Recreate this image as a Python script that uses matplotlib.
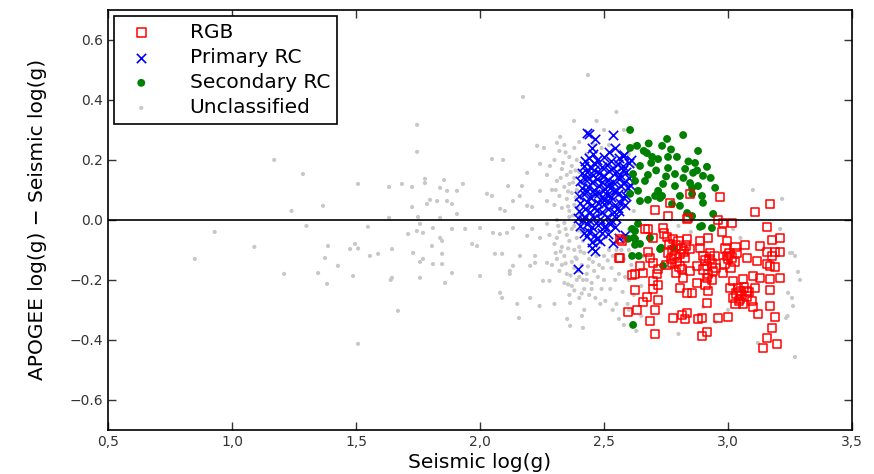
import matplotlib
matplotlib.use("Agg")
import matplotlib.pyplot as plt
from matplotlib.ticker import FuncFormatter, MultipleLocator

# seismic log(g) vs APOGEE - seismic log(g)
rgb_pts = [
    (2.847, 0.087), (2.968, 0.077), (3.169, 0.053), (2.706, 0.033), (2.758, 0.013), (3.109, 0.027),
    (2.839, 0.007), (2.96, 0.0), (3.016, -0.01), (2.98, -0.01), (3.157, -0.023), (2.677, -0.03),
    (2.738, -0.027), (2.976, -0.04), (3.21, -0.06), (3.177, -0.067), (3.069, -0.083), (3.129, -0.087),
    (3.21, -0.107), (3.19, -0.107), (2.565, -0.127), (2.677, -0.107), (2.685, -0.127), (2.754, -0.057),
    (2.778, -0.063), (2.835, -0.063), (2.887, -0.07), (2.919, -0.06), (2.996, -0.07), (2.887, -0.093),
    (2.847, -0.097), (2.806, -0.113), (2.827, -0.127), (2.927, -0.11), (3.036, -0.11), (3.0, -0.13),
    (3.077, -0.127), (3.117, -0.137), (3.157, -0.147), (3.169, -0.153), (2.645, -0.153), (2.698, -0.143),
    (2.718, -0.163), (2.657, -0.177), (2.625, -0.18), (2.714, -0.18), (2.774, -0.143), (2.815, -0.163),
    (2.847, -0.17), (2.819, -0.193), (2.875, -0.153), (2.915, -0.153), (2.94, -0.17), (2.915, -0.193),
    (2.875, -0.21), (2.98, -0.177), (3.02, -0.203), (3.06, -0.197), (3.1, -0.187), (3.129, -0.193),
    (3.169, -0.197), (3.21, -0.193), (2.698, -0.203), (2.718, -0.217), (2.698, -0.23), (2.625, -0.233),
    (2.806, -0.227), (2.835, -0.243), (2.855, -0.243), (2.919, -0.237), (3.008, -0.227), (3.04, -0.227),
    (3.048, -0.237), (3.077, -0.237), (3.109, -0.227), (3.169, -0.233), (3.02, -0.26), (3.048, -0.263),
    (3.097, -0.27), (2.673, -0.257), (2.657, -0.273), (2.718, -0.267), (2.915, -0.277), (3.101, -0.29),
    (3.169, -0.287), (2.597, -0.307), (2.633, -0.3), (2.706, -0.3), (3.121, -0.313), (3.19, -0.323),
    (2.685, -0.337), (2.778, -0.327), (2.815, -0.317), (2.835, -0.31), (2.827, -0.33), (2.879, -0.33),
    (2.895, -0.327), (2.96, -0.327), (3.0, -0.323), (3.177, -0.36), (2.706, -0.38), (2.915, -0.373),
    (2.895, -0.387), (3.157, -0.393), (3.197, -0.413), (3.141, -0.427),
    (2.766, 0.057), (2.835, 0.003), (2.665, -0.03), (2.698, -0.06), (2.565, -0.063), (2.573, -0.07),
    (2.56, -0.127), (2.613, -0.183),
    (2.742, -0.045), (2.762, -0.08), (2.775, -0.1), (2.79, -0.085), (2.8, -0.07), (2.81, -0.095),
    (2.785, -0.12), (2.795, -0.14), (2.77, -0.13), (2.822, -0.105), (2.805, -0.155), (2.757, -0.11),
    (2.83, -0.085), (2.752, -0.15), (2.79, -0.175),
    (2.9, -0.12), (2.91, -0.135), (2.925, -0.13), (2.935, -0.145), (2.9, -0.165), (2.92, -0.18),
    (2.935, -0.2), (2.945, -0.12), (2.91, -0.215), (2.95, -0.16),
    (2.99, -0.095), (3.005, -0.11), (3.015, -0.125), (2.985, -0.145), (3.01, -0.16), (3.025, -0.14),
    (2.995, -0.12), (3.03, -0.09),
    (3.035, -0.245), (3.055, -0.25), (3.065, -0.225), (3.045, -0.27), (3.075, -0.255), (3.06, -0.28),
    (3.085, -0.24), (3.03, -0.28),
    (3.19, -0.157), (3.177, -0.12), (3.157, -0.107),
]

primary_pts = [
    (2.44, 0.205), (2.47, 0.2), (2.50, 0.21), (2.53, 0.195), (2.56, 0.205), (2.58, 0.215), (2.455, 0.22), (2.52, 0.225),
    (2.42, 0.18), (2.445, 0.175), (2.465, 0.185), (2.49, 0.178), (2.51, 0.183), (2.535, 0.172), (2.555, 0.185),
    (2.575, 0.18), (2.6, 0.19),
    (2.41, 0.155), (2.43, 0.16), (2.455, 0.15), (2.48, 0.158), (2.5, 0.148), (2.52, 0.162), (2.545, 0.155),
    (2.565, 0.15), (2.59, 0.16),
    (2.405, 0.13), (2.425, 0.135), (2.45, 0.128), (2.47, 0.138), (2.49, 0.125), (2.515, 0.133), (2.535, 0.128),
    (2.56, 0.135), (2.58, 0.125),
    (2.41, 0.105), (2.435, 0.11), (2.46, 0.1), (2.48, 0.112), (2.505, 0.103), (2.525, 0.108), (2.55, 0.1),
    (2.57, 0.112), (2.595, 0.105),
    (2.40, 0.08), (2.42, 0.085), (2.445, 0.075), (2.465, 0.088), (2.49, 0.078), (2.51, 0.083), (2.53, 0.075),
    (2.555, 0.085), (2.575, 0.078),
    (2.405, 0.055), (2.43, 0.06), (2.45, 0.05), (2.475, 0.058), (2.5, 0.052), (2.52, 0.06), (2.545, 0.05),
    (2.565, 0.057), (2.585, 0.05),
    (2.40, 0.03), (2.425, 0.035), (2.445, 0.025), (2.47, 0.032), (2.49, 0.027), (2.515, 0.035), (2.54, 0.025),
    (2.56, 0.03),
    (2.395, 0.005), (2.42, 0.01), (2.44, 0.0), (2.46, 0.008), (2.485, 0.002), (2.51, 0.01), (2.53, 0.0),
    (2.55, 0.007),
    (2.405, -0.02), (2.43, -0.015), (2.45, -0.025), (2.475, -0.018), (2.5, -0.022), (2.525, -0.015), (2.545, -0.025),
    (2.42, -0.045), (2.44, -0.04), (2.465, -0.05), (2.49, -0.042), (2.515, -0.048),
    (2.431, -0.053), (2.484, -0.07), (2.452, -0.093), (2.464, -0.103), (2.536, -0.077), (2.504, -0.02),
    (2.45, -0.075), (2.47, -0.065), (2.395, -0.163), (2.56, -0.06), (2.585, -0.05),
    (2.431, 0.29), (2.464, 0.27), (2.536, 0.283), (2.544, 0.24), (2.577, 0.213), (2.44, 0.285), (2.45, 0.24),
    (2.425, 0.195), (2.44, 0.14), (2.46, 0.165), (2.48, 0.09), (2.495, 0.145), (2.5, 0.065), (2.52, 0.12),
    (2.54, 0.095), (2.555, 0.04), (2.46, 0.04), (2.43, 0.095), (2.575, 0.165), (2.6, 0.14), (2.59, 0.08),
    (2.605, 0.115), (2.61, 0.2), (2.415, 0.0),
]

secondary_pts = [
    (2.605, 0.30), (2.819, 0.283), (2.754, 0.27), (2.633, 0.247), (2.734, 0.247), (2.605, 0.24), (2.879, 0.23),
    (2.673, 0.223), (2.694, 0.21), (2.758, 0.21), (2.794, 0.21), (2.718, 0.203), (2.867, 0.19), (2.915, 0.177),
    (2.645, 0.18), (2.758, 0.173), (2.827, 0.17), (2.859, 0.157), (2.786, 0.153), (2.899, 0.147), (2.617, 0.153),
    (2.677, 0.15), (2.625, 0.13), (2.665, 0.13), (2.738, 0.12), (2.786, 0.113), (2.847, 0.123), (2.855, 0.107),
    (2.879, 0.113), (2.948, 0.107), (2.605, 0.087), (2.637, 0.097), (2.718, 0.097), (2.706, 0.08), (2.734, 0.08),
    (2.806, 0.08), (2.855, 0.087), (2.895, 0.08), (2.899, 0.057), (2.774, 0.053), (2.806, 0.047), (2.835, 0.023),
    (2.855, 0.013), (2.94, 0.02), (2.895, -0.02), (2.935, -0.027), (2.637, -0.013), (2.625, -0.037),
    (2.645, 0.063), (2.677, 0.067), (2.726, 0.073), (2.613, -0.03), (2.597, -0.063), (2.625, -0.063),
    (2.625, -0.083), (2.685, -0.06), (2.726, -0.097), (2.778, -0.093), (2.613, -0.12), (2.738, -0.153),
    (2.617, -0.35), (2.887, -0.023), (2.62, -0.06), (2.645, -0.08), (2.64, -0.12), (2.73, -0.093),
    (2.69, 0.19), (2.71, 0.165), (2.75, 0.145), (2.82, 0.14), (2.68, 0.255), (2.66, 0.23), (2.84, 0.195),
    (2.77, 0.235), (2.875, 0.165), (2.93, 0.14),
]

unclassified_pts = [
    # sparse tail to the left
    (0.85, -0.13), (0.93, -0.04), (1.09, -0.09), (1.17, 0.20), (1.21, -0.18), (1.24, 0.03), (1.30, -0.02),
    (1.286, 0.153), (1.367, 0.047), (1.387, -0.087), (1.375, -0.127), (1.427, -0.153), (1.347, -0.177),
    (1.383, -0.213), (1.476, -0.097), (1.496, -0.08), (1.508, -0.095), (1.488, -0.187), (1.508, -0.413),
    (1.508, 0.12), (1.548, -0.023), (1.589, -0.113), (1.556, -0.12), (1.633, 0.11), (1.633, 0.007),
    (1.645, -0.097), (1.645, -0.193), (1.64, -0.2), (1.669, -0.303), (1.685, 0.12), (1.726, 0.11),
    (1.726, 0.043), (1.746, 0.317), (1.746, 0.227), (1.73, -0.11), (1.71, -0.047), (1.745, -0.037),
    (1.77, -0.043), (1.75, 0.01), (1.758, -0.013), (1.758, -0.193), (1.77, -0.13), (1.758, -0.14),
    (1.778, 0.137), (1.778, 0.123), (1.786, 0.053), (1.798, 0.067), (1.81, -0.027), (1.806, -0.087),
    (1.81, -0.147), (1.827, 0.063), (1.839, 0.107), (1.839, 0.007), (1.839, -0.06), (1.847, -0.07),
    (1.847, -0.113), (1.847, -0.147), (1.855, 0.133), (1.859, -0.21), (1.867, 0.097), (1.867, 0.063),
    (1.887, 0.053), (1.887, -0.03), (1.887, -0.177), (1.907, 0.097), (1.907, 0.02), (1.931, 0.12),
    (1.94, -0.03), (1.968, -0.08), (1.988, -0.087), (2.0, -0.027), (2.0, -0.187), (2.028, 0.087),
    (2.048, 0.203), (2.048, 0.08), (2.052, -0.043), (2.08, -0.047), (2.081, 0.037), (2.081, -0.243),
    (2.089, -0.113), (2.06, -0.113), (2.089, -0.26), (2.093, 0.2), (2.109, -0.043), (2.113, 0.113),
    (2.12, -0.17), (2.133, 0.063), (2.133, -0.153), (2.133, -0.027), (2.157, -0.327), (2.161, -0.12),
    (2.169, 0.113), (2.16, 0.08), (2.173, 0.41), (2.10, 0.03), (2.19, 0.047), (2.19, -0.053), (2.19, 0.157),
    (2.21, 0.043), (2.21, -0.03), (2.202, -0.153), (2.202, -0.26), (2.222, -0.143), (2.23, 0.247),
    (2.242, 0.097), (2.242, -0.06), (2.242, 0.187), (2.254, -0.203), (2.258, 0.24), (2.27, 0.063),
    (2.27, -0.013), (2.282, 0.18), (2.27, -0.143), (2.28, -0.203), (2.222, -0.12), (2.12, -0.18),
    (2.31, 0.257), (2.323, 0.277), (2.363, -0.277), (2.363, -0.353), (2.351, -0.33), (2.411, -0.32),
    (2.415, -0.36), (2.435, 0.483), (2.379, 0.33), (2.15, -0.28), (2.24, -0.287), (2.30, -0.28),
    # dense band behind the primary clump
    (2.30, 0.2), (2.32, 0.23), (2.34, 0.25), (2.36, 0.21), (2.38, 0.24), (2.40, 0.26), (2.33, 0.17),
    (2.35, 0.15), (2.37, 0.18), (2.39, 0.20), (2.31, 0.13), (2.34, 0.11), (2.36, 0.12), (2.38, 0.14),
    (2.40, 0.16), (2.32, 0.08), (2.35, 0.07), (2.37, 0.09), (2.39, 0.1), (2.30, 0.05), (2.33, 0.04),
    (2.36, 0.03), (2.38, 0.05), (2.40, 0.02), (2.31, 0.0), (2.34, -0.01), (2.36, 0.01), (2.38, -0.02),
    (2.32, -0.04), (2.35, -0.05), (2.37, -0.03), (2.39, -0.06), (2.41, -0.04), (2.30, -0.08), (2.33, -0.09),
    (2.36, -0.07), (2.38, -0.1), (2.40, -0.09), (2.42, -0.11), (2.31, -0.13), (2.34, -0.12), (2.37, -0.14),
    (2.39, -0.13), (2.41, -0.15), (2.44, -0.13), (2.32, -0.17), (2.35, -0.18), (2.38, -0.16), (2.40, -0.19),
    (2.43, -0.18), (2.46, -0.17), (2.34, -0.21), (2.37, -0.22), (2.39, -0.2), (2.42, -0.23), (2.45, -0.21),
    (2.48, -0.15), (2.47, -0.12), (2.5, -0.12), (2.52, -0.1), (2.55, -0.1), (2.58, -0.13), (2.6, -0.1),
    (2.36, -0.25), (2.40, -0.26), (2.44, -0.25), (2.5, -0.2), (2.53, -0.16), (2.56, -0.18), (2.6, -0.2),
    (2.62, -0.25), (2.6, -0.3), (2.55, -0.28), (2.65, -0.32), (2.63, -0.37), (2.58, -0.35), (2.42, -0.3),
    (2.29, -0.15), (2.28, -0.05), (2.29, 0.1), (2.27, 0.15), (2.43, 0.22), (2.46, 0.25), (2.49, 0.24),
    (2.52, 0.25), (2.56, 0.23), (2.6, 0.22), (2.62, 0.25), (2.5, 0.3), (2.58, 0.3), (2.47, 0.33),
    (2.55, 0.36), (2.62, 0.18), (2.63, 0.1), (2.62, 0.03), (2.6, -0.03), (2.61, -0.15),
    (2.335, 0.19), (2.355, 0.095), (2.315, -0.02), (2.345, -0.145), (2.325, -0.105), (2.395, 0.04),
    (2.385, 0.165), (2.365, -0.185), (2.415, -0.07), (2.43, -0.2),
    (2.345, 0.225), (2.365, 0.16), (2.375, 0.125), (2.355, 0.045), (2.385, 0.075), (2.375, 0.015),
    (2.345, -0.03), (2.395, -0.035), (2.355, -0.095), (2.385, -0.125), (2.405, -0.105), (2.395, -0.17),
    (2.415, -0.2), (2.435, -0.155), (2.455, -0.14), (2.475, -0.19), (2.495, -0.16), (2.515, -0.135),
    (2.535, -0.12), (2.545, -0.2), (2.525, -0.23), (2.49, -0.23), (2.465, -0.26), (2.505, -0.27),
    (2.535, -0.3), (2.575, -0.24), (2.585, -0.19), (2.57, -0.1), (2.595, -0.28), (2.56, -0.33),
    (2.325, 0.14), (2.305, 0.1), (2.31, -0.06), (2.305, -0.11), (2.33, -0.15), (2.355, -0.215),
    (2.38, -0.235), (2.41, -0.245), (2.45, -0.23), (2.485, -0.28),
    # sparse points to the right
    (3.218, 0.07), (3.21, -0.03), (3.258, -0.11), (3.27, -0.12), (3.282, -0.173), (3.29, -0.2),
    (3.242, -0.243), (3.258, -0.26), (3.262, -0.287), (3.234, -0.327), (3.27, -0.457), (3.02, -0.03),
    (3.05, -0.06), (3.25, -0.11), (3.24, -0.32), (3.0, -0.3), (2.9, -0.29), (2.95, -0.34), (2.8, -0.38),
    (2.65, -0.22), (2.66, -0.12), (2.8, -0.02), (2.85, -0.04), (3.1, 0.1), (3.12, -0.41),
]

labels = ['RGB', 'Primary RC', 'Secondary RC', 'Unclassified']


def split(pts):
    return [p[0] for p in pts], [p[1] for p in pts]


fig = plt.figure(figsize=(8.74, 4.74), dpi=100)
ax = fig.add_axes([0.1236, 0.093, 0.8513, 0.886])

ux, uy = split(unclassified_pts)
px_, py_ = split(primary_pts)
sx, sy = split(secondary_pts)
rx, ry = split(rgb_pts)

h_un = ax.scatter(ux, uy, s=9, marker='o', color='#c8c8c8', edgecolors='none', zorder=1)
h_pr = ax.scatter(px_, py_, s=45, marker='x', color='blue', linewidths=1.2, zorder=2)
h_se = ax.scatter(sx, sy, s=32, marker='o', color='green', edgecolors='none', zorder=3)
h_rg = ax.scatter(rx, ry, s=38, marker='s', facecolors='none', edgecolors='red', linewidths=1.1, zorder=4)

ax.axhline(0.0, color='black', lw=1.2, zorder=5)

ax.set_xlim(0.5, 3.5)
ax.set_ylim(-0.7, 0.7)
ax.xaxis.set_major_locator(MultipleLocator(0.5))
ax.yaxis.set_major_locator(MultipleLocator(0.2))
ax.xaxis.set_major_formatter(FuncFormatter(lambda v, p: ('%.1f' % v).replace('.', ',')))
ax.yaxis.set_major_formatter(FuncFormatter(lambda v, p: ('%.1f' % (0.0 if abs(v) < 1e-9 else v)).replace('-', '\u2212')))
ax.tick_params(direction='in', top=True, right=True, length=6, width=1, labelsize=10, colors='#333333')
for sp in ax.spines.values():
    sp.set_linewidth(1.2)

ax.set_xlabel('Seismic log(g)', fontsize=14.5, labelpad=3)
ax.set_ylabel('APOGEE log(g) \u2212 Seismic log(g)', fontsize=14.5, labelpad=16)

leg = ax.legend([h_rg, h_pr, h_se, h_un], labels, loc='upper left', fontsize=14.5, scatterpoints=1,
                fancybox=False, framealpha=1, edgecolor='black', borderaxespad=0.3,
                handlelength=2.0, handletextpad=1.4, labelspacing=0.3, borderpad=0.35)
leg.get_frame().set_linewidth(1.2)

fig.savefig('out.png', dpi=100)
